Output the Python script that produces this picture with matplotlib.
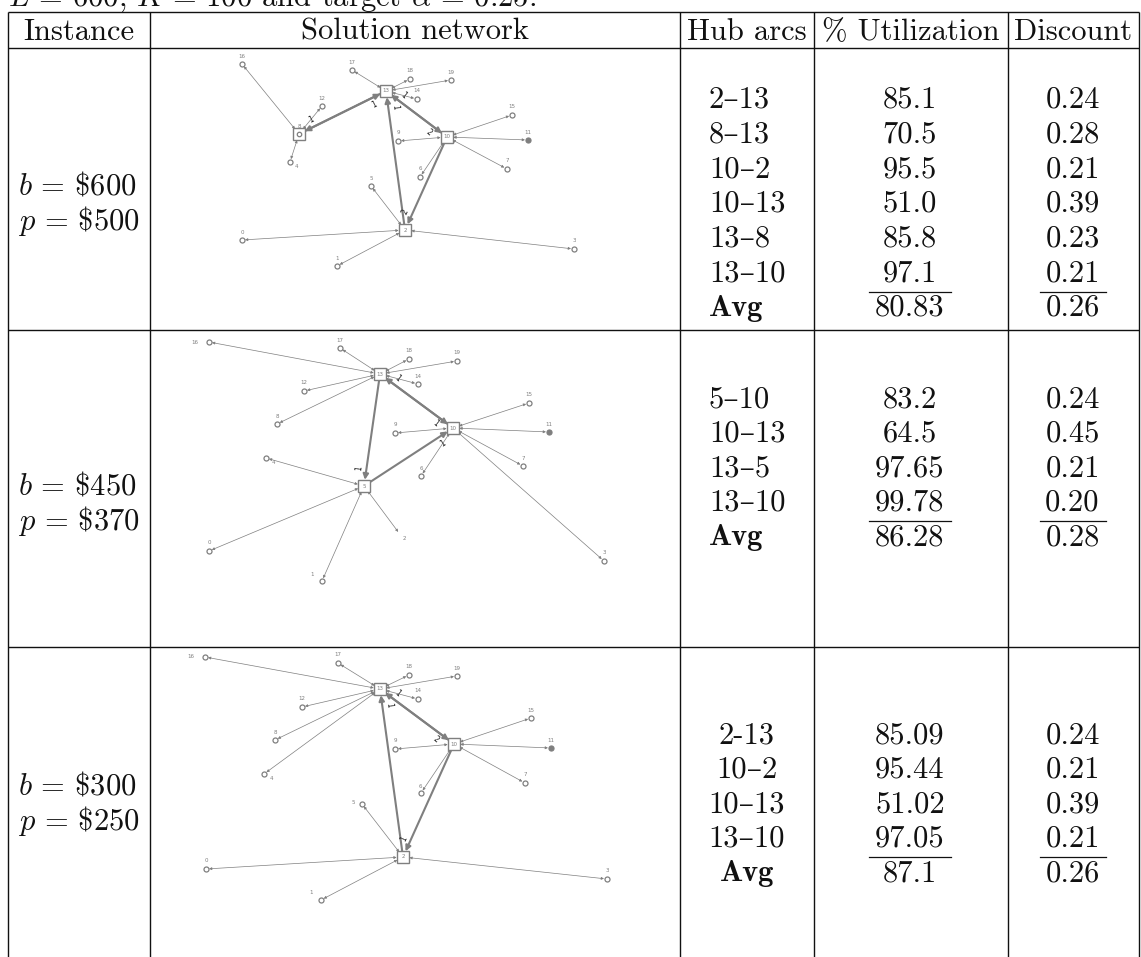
import math
import matplotlib
matplotlib.use("Agg")
import matplotlib.pyplot as plt

plt.rcParams["mathtext.fontset"] = "cm"
plt.rcParams["axes.unicode_minus"] = False

# ---------------- table content ----------------
headers = ["Instance", "Solution network", "Hub arcs", "% Utilization", "Discount"]

instance_b = ["600", "450", "300"]
instance_p = ["500", "370", "250"]

arcs_1 = ["2–13", "8–13", "10–2", "10–13", "13–8", "13–10"]
util_1 = ["85.1", "70.5", "95.5", "51.0", "85.8", "97.1"]
disc_1 = ["0.24", "0.28", "0.21", "0.39", "0.23", "0.21"]
avg_util_1, avg_disc_1 = "80.83", "0.26"

arcs_2 = ["5–10", "10–13", "13–5", "13–10"]
util_2 = ["83.2", "64.5", "97.65", "99.78"]
disc_2 = ["0.24", "0.45", "0.21", "0.20"]
avg_util_2, avg_disc_2 = "86.28", "0.28"

arcs_3 = ["2-13", "10–2", "10–13", "13–10"]
util_3 = ["85.09", "95.44", "51.02", "97.05"]
disc_3 = ["0.24", "0.21", "0.39", "0.21"]
avg_util_3, avg_disc_3 = "87.1", "0.26"

# ---------------- network layouts (cell-local pixel units) ----------------
layout_1 = {16: (92, 16), 17: (202, 22), 13: (236, 43), 18: (260, 31), 19: (301, 32),
            14: (267, 51), 12: (172, 58), 8: (149, 86), 4: (140, 114), 15: (362, 67),
            9: (248, 93), 10: (297, 89), 11: (378, 92), 7: (357, 121), 6: (270, 129),
            5: (221, 138), 2: (255, 182), 0: (92, 192), 3: (424, 201), 1: (187, 218)}
hubs_1 = [13, 8, 10, 2]
spokes_1 = [(16, 8), (12, 8), (4, 8), (17, 13), (18, 13), (19, 13), (14, 13),
            (9, 10), (15, 10), (11, 10), (7, 10), (6, 10),
            (5, 2), (0, 2), (3, 2), (1, 2)]
arc_flow_1 = ["1", "1", "2", "1", "1", "2"]

layout_2 = {16: (59, 12), 17: (190, 18), 13: (230, 44), 18: (259, 29), 19: (307, 31),
            14: (268, 54), 12: (154, 61), 8: (127, 94), 15: (379, 73), 9: (245, 103),
            10: (303, 98), 11: (399, 102), 4: (116, 128), 7: (373, 136), 6: (271, 146),
            5: (214, 156), 2: (249, 203), 0: (59, 221), 1: (172, 251), 3: (454, 231)}
hubs_2 = [13, 10, 5]
spokes_2 = [(16, 13), (17, 13), (18, 13), (19, 13), (14, 13), (12, 13), (8, 13),
            (9, 10), (15, 10), (11, 10), (7, 10), (6, 10), (3, 10),
            (4, 5), (0, 5), (1, 5), (2, 5)]
arc_flow_2 = ["1", "1", "1", "1"]

layout_3 = {16: (55, 10), 17: (188, 16), 13: (230, 42), 18: (259, 28), 19: (307, 29),
            14: (268, 52), 12: (152, 60), 8: (125, 93), 4: (114, 127), 15: (381, 71),
            9: (245, 102), 10: (304, 97), 11: (401, 101), 7: (375, 136), 6: (271, 146),
            5: (212, 157), 2: (253, 210), 0: (56, 222), 3: (457, 232), 1: (171, 253)}
hubs_3 = [13, 10, 2]
spokes_3 = [(16, 13), (17, 13), (18, 13), (19, 13), (14, 13), (12, 13), (8, 13), (4, 13),
            (9, 10), (15, 10), (11, 10), (7, 10), (6, 10),
            (5, 2), (0, 2), (3, 2), (1, 2)]
arc_flow_3 = ["1", "1", "1", "2"]

# ---------------- figure ----------------
W, H = 1141, 957
fig = plt.figure(figsize=(W / 100, H / 100), dpi=100)
ax = fig.add_axes([0, 0, 1, 1])
ax.set_xlim(0, W)
ax.set_ylim(H, 0)
ax.axis("off")

RM = ["cmr10", "DejaVu Serif"]
BF = ["cmb10", "DejaVu Serif"]
FS = 22
INK = "#111111"
NET = "#7f7f7f"

col_x = [8, 150, 680, 814, 1008, 1139]
row_y = [11.5, 48, 330, 647]

for x in col_x:
    ax.plot([x, x], [row_y[0], H + 5], color=INK, lw=1.0, solid_capstyle="butt")
for y in row_y:
    ax.plot([col_x[0], col_x[-1]], [y, y], color=INK, lw=1.0, solid_capstyle="butt")

ax.text(8, 5.5, r"$L\,=\,600,\,K\,=\,100$ and target $\alpha\,=\,0.25$.",
        fontsize=FS, family=RM, va="baseline", ha="left", color=INK)

for i, h in enumerate(headers):
    cx = (col_x[i] + col_x[i + 1]) / 2
    ax.text(cx, 40, h, fontsize=FS, family=RM, ha="center", va="baseline", color=INK)

LS = 34.6
hub_cx = (col_x[2] + col_x[3]) / 2
util_cx = (col_x[3] + col_x[4]) / 2 - 1
disc_cx = (col_x[4] + col_x[5]) / 2 - 1
inst_x = 18


def table_row(first_base, inst_base, arcs, util, disc, avg_u, avg_d, b, p, align):
    n = len(arcs)
    bases = [first_base + k * LS for k in range(n + 1)]
    ax.text(inst_x, inst_base, r"$b\,=\,\$%s$" % b, fontsize=FS, ha="left",
            va="baseline", color=INK)
    ax.text(inst_x, inst_base + LS, r"$p\,=\,\$%s$" % p, fontsize=FS, ha="left",
            va="baseline", color=INK)
    if align == "left":
        hx, ha = 709, "left"
    else:
        hx, ha = hub_cx, "center"
    for k in range(n):
        ax.text(hx, bases[k], arcs[k], fontsize=FS, family=RM, ha=ha, va="baseline", color=INK)
        ax.text(util_cx, bases[k], util[k], fontsize=FS, family=RM, ha="center",
                va="baseline", color=INK)
        ax.text(disc_cx, bases[k], disc[k], fontsize=FS, family=RM, ha="center",
                va="baseline", color=INK)
    ax.text(hx, bases[n], "Avg", fontsize=FS, family=BF, ha=ha, va="baseline", color=INK)
    ax.text(util_cx, bases[n], avg_u, fontsize=FS, family=RM, ha="center", va="baseline", color=INK)
    ax.text(disc_cx, bases[n], avg_d, fontsize=FS, family=RM, ha="center", va="baseline", color=INK)
    yl = bases[n] - 24
    ax.plot([util_cx - 41, util_cx + 41], [yl, yl], color=INK, lw=0.9)
    ax.plot([disc_cx - 33, disc_cx + 33], [yl, yl], color=INK, lw=0.9)


table_row(108, 195, arcs_1, util_1, disc_1, avg_util_1, avg_disc_1,
          instance_b[0], instance_p[0], "left")
table_row(407, 495, arcs_2, util_2, disc_2, avg_util_2, avg_disc_2,
          instance_b[1], instance_p[1], "left")
table_row(743, 795, arcs_3, util_3, disc_3, avg_util_3, avg_disc_3,
          instance_b[2], instance_p[2], "center")


def parse_arc(s):
    a, b = s.replace("-", "–").split("–")
    return int(a), int(b)


def draw_network(origin, layout, hubs, spokes, arcs, flows, offsets, bare=(), ringed=()):
    ox, oy = origin
    P = {k: (ox + x, oy + y) for k, (x, y) in layout.items()}
    for a, b in spokes:
        sa = 1.0 if a in bare else 2.2
        ax.annotate("", xy=P[b], xytext=P[a],
                    arrowprops=dict(arrowstyle="<|-|>", mutation_scale=3.8, lw=0.5,
                                    color=NET, shrinkA=sa, shrinkB=4.6))
    for s, f in zip(arcs, flows):
        a, b = parse_arc(s)
        (x0, y0), (x1, y1) = P[a], P[b]
        ax.annotate("", xy=(x1, y1), xytext=(x0, y0),
                    arrowprops=dict(arrowstyle="-|>", mutation_scale=8, lw=1.5,
                                    color=NET, shrinkA=4.5, shrinkB=4.5))
        dx, dy = x1 - x0, y1 - y0
        L = (dx * dx + dy * dy) ** 0.5
        ux, uy = dx / L, dy / L
        tx, ty = x1 - ux * 17 - uy * 7, y1 - uy * 17 + ux * 7
        ang = -math.degrees(math.atan2(dy, dx))
        if ang > 90:
            ang -= 180
        if ang < -90:
            ang += 180
        ax.text(tx, ty, f, fontsize=5.5, ha="center", va="center", rotation=ang,
                color="#222222")
    for k, (x, y) in P.items():
        if k in hubs:
            ax.plot(x, y, "s", ms=8, mfc="white", mec=NET, mew=1.0, zorder=5)
            if k in ringed:
                ax.plot(x, y, "o", ms=3.2, mfc="white", mec=NET, mew=0.9, zorder=6)
                ax.text(x, y - 8, str(k), fontsize=4, ha="center", va="center", color=NET)
            else:
                ax.text(x, y, str(k), fontsize=4, ha="center", va="center", color=NET, zorder=7)
        else:
            if k not in bare:
                fill = NET if k == 11 else "white"
                ax.plot(x, y, "o", ms=3.6, mfc=fill, mec=NET, mew=0.9, zorder=5)
            dx, dy = offsets.get(k, (0, -8))
            ax.text(x + dx, y + dy, str(k), fontsize=4, ha="center", va="center", color=NET)


draw_network((150, 48), layout_1, hubs_1, spokes_1, arcs_1, arc_flow_1,
             {4: (6, 5)}, ringed=(8,))
draw_network((150, 330), layout_2, hubs_2, spokes_2, arcs_2, arc_flow_2,
             {16: (-14, 0), 4: (7, 4), 2: (5, 6), 1: (-10, -7)}, bare=(2,))
draw_network((150, 647), layout_3, hubs_3, spokes_3, arcs_3, arc_flow_3,
             {16: (-14, 0), 4: (7, 4), 5: (-9, -1), 1: (-10, -7), 6: (-1, -7)})

fig.savefig("out.png", dpi=100, facecolor="white")
